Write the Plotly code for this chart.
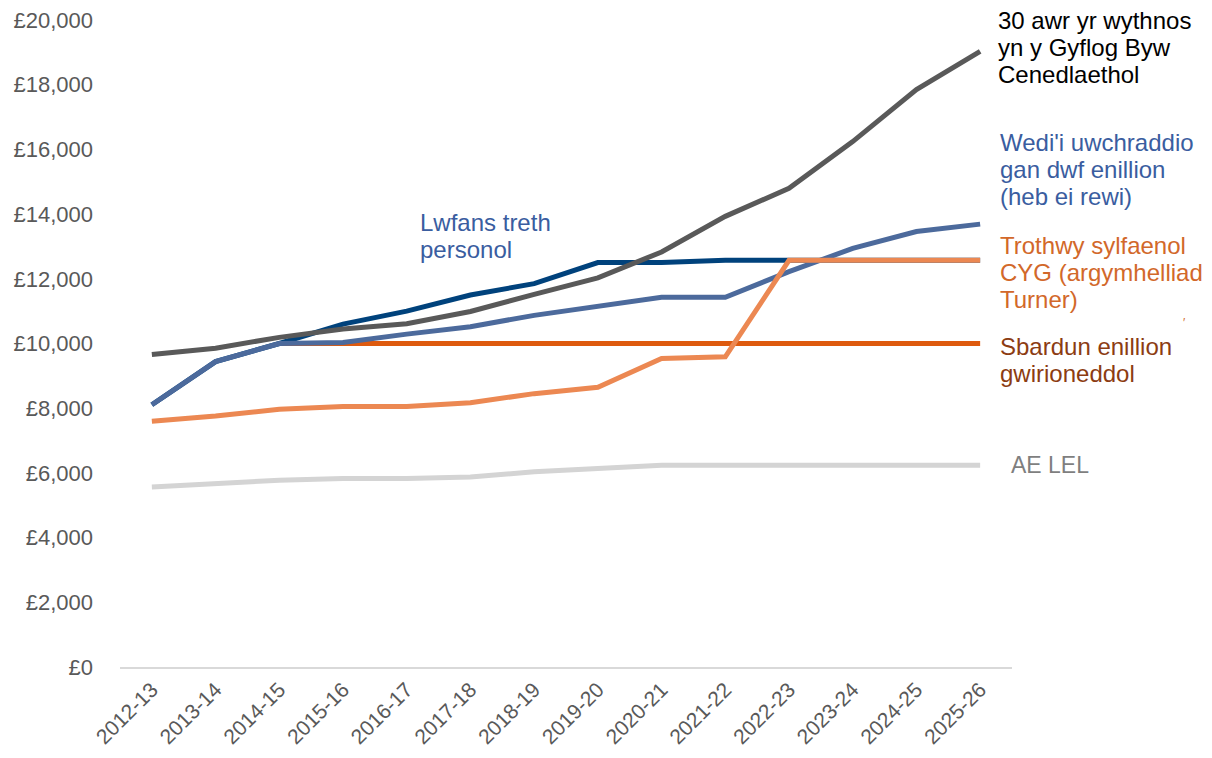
import plotly.graph_objects as go

years = ["2012-13", "2013-14", "2014-15", "2015-16", "2016-17", "2017-18", "2018-19",
         "2019-20", "2020-21", "2021-22", "2022-23", "2023-24", "2024-25", "2025-26"]

ae_lel = [5564, 5668, 5772, 5824, 5824, 5876, 6032, 6136, 6240, 6240, 6240, 6240, 6240, 6240]
real_trigger = [None, None, 10000, 10000, 10000, 10000, 10000, 10000, 10000, 10000, 10000, 10000, 10000, 10000]
personal_allowance = [8105, 9440, 10000, 10600, 11000, 11500, 11850, 12500, 12500, 12570, 12570, 12570, 12570, 12570]
uprated_earnings = [8105, 9440, 10000, 10030, 10290, 10520, 10870, 11160, 11430, 11430, 12220, 12940, 13460, 13690]
nlw_30h = [9660, 9855, 10190, 10450, 10610, 10990, 11520, 12030, 12830, 13930, 14800, 16240, 17850, 19030]
turner = [7600, 7760, 7965, 8050, 8050, 8170, 8450, 8645, 9540, 9590, 12570, 12570, 12570, 12570]

y_ticks = [0, 2000, 4000, 6000, 8000, 10000, 12000, 14000, 16000, 18000, 20000]
y_tick_labels = ["£0", "£2,000", "£4,000", "£6,000", "£8,000", "£10,000", "£12,000",
                 "£14,000", "£16,000", "£18,000", "£20,000"]

FONT = "Arial, Liberation Sans, sans-serif"

fig = go.Figure()

def add(y, color, name):
    fig.add_trace(go.Scatter(x=years, y=y, mode="lines", name=name,
                             line=dict(color=color, width=5), connectgaps=False,
                             hoverinfo="x+y"))

add(ae_lel, "#D4D4D4", "AE LEL")
add(real_trigger, "#DE5A0E", "Sbardun enillion gwirioneddol")
add(personal_allowance, "#00427C", "Lwfans treth personol")
add(uprated_earnings, "#4C6A9C", "Wedi'i uwchraddio gan dwf enillion")
add(nlw_30h, "#595959", "30 awr yr wythnos yn y Gyflog Byw Cenedlaethol")
add(turner, "#EC8852", "Trothwy sylfaenol CYG")

# plot area in page pixels; the page body has an 8px default margin
OFF = 8
W, H = 1212 - OFF, 758 - OFF
L, R, T, B = 120, 1012, 20, 667

def px(xpix):
    return (xpix - L) / (R - L)

def val(ypix):
    return (B - ypix) / (B - T) * 20000

labels = [
    (["30 awr yr wythnos", "yn y Gyflog Byw", "Cenedlaethol"], 996, 20, "#000000", 24),
    (["Wedi'i uwchraddio", "gan dwf enillion", "(heb ei rewi)"], 998, 142, "#3A5DA0", 24),
    (["Lwfans treth", "personol"], 418, 222, "#3A5DA0", 24),
    (["Trothwy sylfaenol", "CYG (argymhelliad", "Turner)"], 998, 245, "#D2682A", 24),
    (["Sbardun enillion", "gwirioneddol"], 998, 346, "#8C3C12", 24),
    (["AE LEL"], 1009, 465, "#7F7F7F", 23),
]
for lines, xp, yp, col, size in labels:
    for i, line in enumerate(lines):
        fig.add_annotation(text=line, xref="paper", yref="y", x=px(xp), y=val(yp + 27 * i),
                           xanchor="left", yanchor="middle", align="left", showarrow=False,
                           font=dict(family=FONT, size=size, color=col))

fig.add_annotation(text="′", xref="paper", yref="y", x=px(1181), y=val(323),
                   xanchor="left", yanchor="middle", showarrow=False,
                   font=dict(family=FONT, size=12, color="#D2682A"))

fig.update_layout(
    width=W, height=H,
    margin=dict(l=L - OFF, r=W - (R - OFF), t=T - OFF, b=H - (B - OFF)),
    paper_bgcolor="white", plot_bgcolor="white",
    showlegend=False,
    font=dict(family=FONT, color="#595959"),
)
fig.update_xaxes(type="category", range=[-0.5, 13.5], tickangle=-45, automargin=False,
                 tickfont=dict(family=FONT, size=21, color="#595959"),
                 showgrid=False, showline=True, linecolor="#D9D9D9", linewidth=2,
                 ticks="", zeroline=False, ticklabeloverflow="allow")
fig.update_yaxes(range=[0, 20000], tickvals=y_ticks, ticktext=y_tick_labels, automargin=False,
                 tickfont=dict(family=FONT, size=22, color="#595959"),
                 showgrid=False, zeroline=False, showline=False, ticks="",
                 ticklabelstandoff=26, ticklabeloverflow="allow")

fig.write_html("out.html")
